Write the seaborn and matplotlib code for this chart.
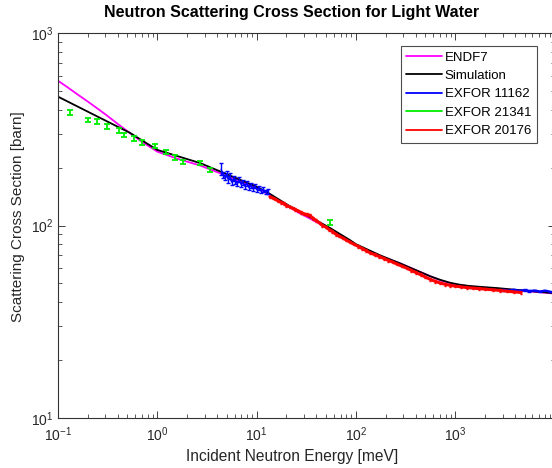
import math
import matplotlib
matplotlib.use('Agg')
import matplotlib.pyplot as plt
from matplotlib.lines import Line2D
from matplotlib.ticker import FixedLocator, FuncFormatter
import seaborn as sns
import pandas as pd

# ENDF7 evaluated cross section
endf_e = [0.1, 0.125, 0.15, 0.2, 0.25, 0.3, 0.4, 0.53, 0.7, 1.0, 1.6, 2.7, 4.5, 10,
          13.6, 20, 27, 39, 55, 87, 100, 175, 280, 560, 700, 890, 1100, 1400, 1900,
          2650, 5000, 10000]
endf_s = [565, 522, 488, 440, 405, 378, 337, 302, 272, 242, 222, 205, 185, 156,
          144, 127, 116, 105, 96, 83, 79, 69.5, 63.5, 54.5, 52, 50.1, 49.0, 48.3, 47.6,
          47.0, 45.7, 44.3]

# simulation
sim_e = [0.1, 0.2, 0.3, 0.53, 1.0, 2.7, 4.5, 10, 13.6, 20, 27, 39, 55, 87,
         100, 175, 280, 560, 700, 890, 1100, 1400, 1900, 2650, 5000, 10000]
sim_s = [467, 390, 351, 303, 247, 211, 189, 159, 146, 129, 118, 107, 97, 84,
         80, 70, 63.5, 54.5, 52.3, 50.4, 49.3, 48.5, 47.9, 47.3, 45.9, 44.5]

# EXFOR 11162 (low and high energy parts)
ex1_e = [4.4, 4.6, 4.8, 5.0, 5.2, 5.4, 5.6, 5.9, 6.1, 6.4, 6.7, 7.0, 7.3, 7.6, 8.0,
         8.4, 8.8, 9.2, 9.6, 10.1, 10.6, 11.1, 11.7, 12.3, 12.9]
ex1_s = [196, 183, 178, 186, 172, 181, 168, 176, 170, 165, 173, 163, 168, 160, 166,
         157, 162, 155, 160, 153, 157, 151, 154, 149, 150]
ex1_err = [14, 6, 6, 6, 6, 6, 5, 5, 5, 5, 5, 5, 5, 5, 5,
           5, 5, 4, 4, 4, 4, 4, 4, 4, 4]
ex1h_e = [3000, 3400, 3900, 4400, 5000, 5600, 6300, 7100, 8000, 9000]
ex1h_s = [46.3, 45.9, 46.4, 45.8, 46.2, 45.7, 46.0, 45.5, 45.9, 45.4]

# EXFOR 21341
ex2_e = [0.132, 0.202, 0.249, 0.309, 0.411, 0.465, 0.587, 0.706, 0.948, 1.22, 1.51,
         1.83, 2.69, 3.40, 54.8]
ex2_s = [385, 353, 346, 326, 313, 295, 284, 270, 259, 242, 226, 214, 212, 194, 104]
ex2_err = [11, 10, 10, 9, 9, 8, 8, 7, 7, 6, 6, 5, 5, 5, 3]

# EXFOR 20176
ex3_e = [13.6, 14.5, 15.5, 16.5, 17.6, 18.8, 20, 21.5, 23, 24.6, 26.3, 28, 30, 32, 34.4,
         37, 40, 43, 46, 50, 54, 58, 63, 68, 74, 80, 87, 95, 105, 115, 127, 140, 155,
         172, 190, 210, 235, 260, 290, 325, 360, 400, 450, 500, 560, 630, 700, 790,
         890, 1000, 1150, 1300, 1500, 1750, 2000, 2400, 2800, 3300, 3900, 4600]
ex3_s = [141, 139, 137, 134, 132, 130, 127, 125, 123, 121, 119, 117, 115, 114, 113,
         109, 106, 103, 100, 98, 95, 93, 90, 88, 86, 84, 82, 80, 78, 76, 74, 72, 70.5,
         69, 67.5, 66, 64.5, 63, 61.5, 60, 58.5, 57, 55.5, 54, 52.5, 51.3, 50.3, 49.5,
         48.9, 48.4, 48.0, 47.6, 47.3, 47.0, 46.7, 46.3, 46.0, 45.6, 45.2, 44.9]

sns.set_theme(style='ticks')
plt.rcParams['font.family'] = ['Liberation Sans', 'DejaVu Sans']
plt.rcParams['mathtext.fontset'] = 'custom'
plt.rcParams['mathtext.rm'] = 'Liberation Sans'
plt.rcParams['mathtext.it'] = 'Liberation Sans:italic'
plt.rcParams['mathtext.bf'] = 'Liberation Sans:bold'

fig = plt.figure(figsize=(5.52, 4.68), dpi=100)
ax = fig.add_axes([58 / 552, 50 / 468, 496.5 / 552, 385 / 468])

endf = pd.DataFrame({'E': endf_e, 'sigma': endf_s})
sim = pd.DataFrame({'E': sim_e, 'sigma': sim_s})
sns.lineplot(data=endf, x='E', y='sigma', color='#ff00ff', lw=1.3, ax=ax)
sns.lineplot(data=sim, x='E', y='sigma', color='black', lw=1.3, ax=ax)

ax.errorbar(ex1_e, ex1_s, yerr=ex1_err, color='blue', lw=1, elinewidth=1, capsize=1.5)
ax.errorbar(ex1h_e, ex1h_s, yerr=[0.4] * len(ex1h_s), color='blue', lw=1.5,
            elinewidth=1, capsize=1.5)
ax.errorbar(ex2_e, ex2_s, yerr=ex2_err, color='#00ee00', ls='none', elinewidth=1.3,
            capsize=2, capthick=1.3)
ax.errorbar(ex3_e, ex3_s, yerr=[v * 0.015 for v in ex3_s], color='red', lw=2.2,
            elinewidth=1, capsize=1)

ax.set_xscale('log')
ax.set_yscale('log')
ax.set_xlim(0.1, 1e4)
ax.set_ylim(10, 1000)
ax.set_xlabel('')
ax.set_ylabel('')
ax.xaxis.set_major_locator(FixedLocator([0.1, 1, 10, 100, 1000, 10000]))
ax.xaxis.set_major_formatter(FuncFormatter(
    lambda v, p: '' if v > 5000 else r'$\mathregular{10^{%d}}$' % round(math.log10(v))))
ax.tick_params(which='both', direction='in', top=True, right=True, colors='0.25',
               labelcolor='0.15', labelsize=10)
ax.tick_params(which='major', length=5, width=0.7)
ax.tick_params(which='minor', length=3, width=0.6)
ax.tick_params(axis='x', which='major', pad=5)
for sp in ax.spines.values():
    sp.set_color('0.2')
    sp.set_linewidth(0.8)

handles = [Line2D([], [], color=c, lw=1.3) for c in
           ['#ff00ff', 'black', 'blue', '#00ee00', 'red']]
labels = ['ENDF7', 'Simulation', 'EXFOR 11162', 'EXFOR 21341', 'EXFOR 20176']
leg = ax.legend(handles, labels, loc='upper right', bbox_to_anchor=(0.964, 0.966),
                borderaxespad=0, fancybox=False, framealpha=1, edgecolor='0.3',
                fontsize=9.5, handlelength=2.7, labelspacing=0.47, handletextpad=0.25,
                borderpad=0.4)
leg.get_frame().set_linewidth(0.8)
for t in leg.get_texts():
    t.set_color('black')

fig.text(292 / 552, 1 - 12 / 468, 'Neutron Scattering Cross Section for Light Water',
         ha='center', va='center', fontsize=11.5, fontweight='bold', color='black')
fig.text(292 / 552, 1 - 457 / 468, 'Incident Neutron Energy [meV]', ha='center',
         va='center', fontsize=11.2, color='0.15')
fig.text(18 / 552, 1 - 216.5 / 468, 'Scattering Cross Section [barn]', ha='center',
         va='center', rotation=90, fontsize=11, color='0.15')

fig.savefig('out.png', dpi=100)
